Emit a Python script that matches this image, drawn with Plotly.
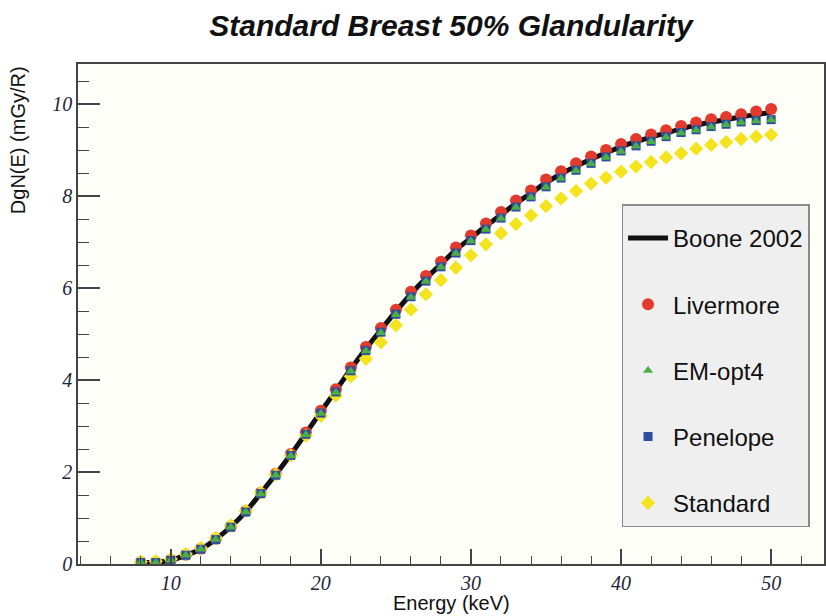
import plotly.graph_objects as go

energy = list(range(8, 51))

boone = [0.03, 0.04, 0.08, 0.19, 0.32, 0.54, 0.81, 1.14, 1.54, 1.95, 2.38, 2.84, 3.31, 3.77,
         4.24, 4.68, 5.09, 5.49, 5.87, 6.21, 6.52, 6.83, 7.09, 7.35, 7.59, 7.84, 8.06, 8.29,
         8.48, 8.65, 8.80, 8.94, 9.07, 9.18, 9.28, 9.37, 9.46, 9.54, 9.61, 9.66, 9.72, 9.77, 9.82]

livermore = [0.04, 0.04, 0.09, 0.20, 0.33, 0.55, 0.82, 1.15, 1.55, 1.96, 2.39, 2.86, 3.33, 3.80,
             4.27, 4.72, 5.13, 5.53, 5.92, 6.26, 6.57, 6.88, 7.14, 7.40, 7.65, 7.90, 8.12, 8.36,
             8.54, 8.71, 8.86, 9.00, 9.13, 9.24, 9.34, 9.43, 9.52, 9.60, 9.67, 9.72, 9.78, 9.84, 9.89]

emopt4 = [0.03, 0.03, 0.08, 0.19, 0.32, 0.53, 0.80, 1.13, 1.52, 1.93, 2.35, 2.81, 3.27, 3.73,
          4.19, 4.63, 5.03, 5.42, 5.80, 6.14, 6.45, 6.75, 7.02, 7.27, 7.51, 7.75, 7.97, 8.19,
          8.38, 8.55, 8.70, 8.84, 8.97, 9.08, 9.18, 9.28, 9.37, 9.43, 9.50, 9.55, 9.60, 9.63, 9.65]

penelope = [0.03, 0.03, 0.08, 0.19, 0.32, 0.53, 0.80, 1.13, 1.53, 1.93, 2.36, 2.82, 3.28, 3.74,
            4.20, 4.64, 5.04, 5.43, 5.81, 6.15, 6.46, 6.76, 7.03, 7.28, 7.52, 7.76, 7.98, 8.20,
            8.39, 8.56, 8.71, 8.85, 8.98, 9.09, 9.19, 9.29, 9.38, 9.44, 9.51, 9.56, 9.61, 9.64, 9.66]

standard = [0.05, 0.06, 0.11, 0.22, 0.35, 0.57, 0.84, 1.16, 1.55, 1.95, 2.36, 2.79, 3.22, 3.66,
            4.08, 4.46, 4.82, 5.19, 5.53, 5.86, 6.17, 6.44, 6.71, 6.95, 7.19, 7.39, 7.58, 7.78,
            7.95, 8.11, 8.27, 8.40, 8.53, 8.64, 8.74, 8.84, 8.93, 9.03, 9.11, 9.17, 9.24, 9.29, 9.33]

fig = go.Figure()

fig.add_trace(go.Scatter(x=energy, y=boone, mode="lines", name="Boone 2002",
                         line=dict(color="#111111", width=5, shape="spline"),
                         legendgroup="a", legendrank=1))
fig.add_trace(go.Scatter(x=energy, y=livermore, mode="markers", name="Livermore",
                         marker=dict(symbol="circle", size=12, color="#e23b2e"),
                         legendgroup="b", legendrank=2))
fig.add_trace(go.Scatter(x=energy, y=standard, mode="markers", name="Standard",
                         marker=dict(symbol="diamond", size=11, color="#f4e41d"),
                         legendgroup="e", legendrank=5))
fig.add_trace(go.Scatter(x=energy, y=penelope, mode="markers", name="Penelope",
                         marker=dict(symbol="square", size=9, color="#2f4d9e"),
                         legendgroup="d", legendrank=4))
fig.add_trace(go.Scatter(x=energy, y=emopt4, mode="markers", name="EM-opt4",
                         marker=dict(symbol="triangle-up", size=9, color="#4caf45"),
                         legendgroup="c", legendrank=3))

tickfont = dict(family="Liberation Serif", size=20, color="#1e2536", style="italic")

fig.update_layout(
    width=826, height=616,
    margin=dict(l=78, r=0, t=64, b=52),
    paper_bgcolor="white",
    plot_bgcolor="#fffffa",
    title=dict(text="<b><i>Standard Breast 50% Glandularity</i></b>",
               font=dict(family="Liberation Sans", size=30, color="#111111"),
               x=0.5, xref="paper", xanchor="center",
               y=1 - 25 / 616, yref="container", yanchor="middle"),
    showlegend=True,
    legend=dict(x=(623 - 78) / 748, xanchor="left", y=(564 - 204) / 500, yanchor="top",
                bgcolor="#efefef", bordercolor="#8a8a8a", borderwidth=1.5,
                font=dict(family="Liberation Sans", size=24, color="#111111"),
                title=dict(text=" ", font=dict(size=8)),
                traceorder="grouped", tracegroupgap=32, itemsizing="trace",
                itemwidth=40, entrywidth=200),
    xaxis=dict(range=[3.82, 53.52], showgrid=False, zeroline=False,
               showline=True, linecolor="#444444", linewidth=1.5, mirror=True,
               ticks="inside", ticklen=15, tickwidth=1.5, tickcolor="#444444",
               dtick=10, tick0=0, tickfont=tickfont,
               minor=dict(dtick=2, tick0=0, ticks="inside", ticklen=8,
                          tickwidth=1.2, tickcolor="#444444")),
    yaxis=dict(range=[0, 10.87], showgrid=False, zeroline=False,
               showline=True, linecolor="#444444", linewidth=1.5, mirror=True,
               ticks="inside", ticklen=22, tickwidth=1.5, tickcolor="#444444",
               dtick=2, tick0=0, tickfont=tickfont,
               minor=dict(dtick=0.5, tick0=0, ticks="inside", ticklen=11,
                          tickwidth=1.2, tickcolor="#444444")),
    annotations=[
        dict(text="DgN(E) (mGy/R)", xref="paper", yref="paper",
             x=(18 - 78) / 748, y=1, xanchor="center", yanchor="top",
             textangle=-90, showarrow=False,
             font=dict(family="Liberation Sans", size=20, color="#111111")),
        dict(text="Energy (keV)", xref="paper", yref="paper",
             x=0.5, y=-(603 - 564) / 500, xanchor="center", yanchor="middle",
             showarrow=False,
             font=dict(family="Liberation Sans", size=20, color="#111111")),
    ],
)

fig.write_html("out.html")
